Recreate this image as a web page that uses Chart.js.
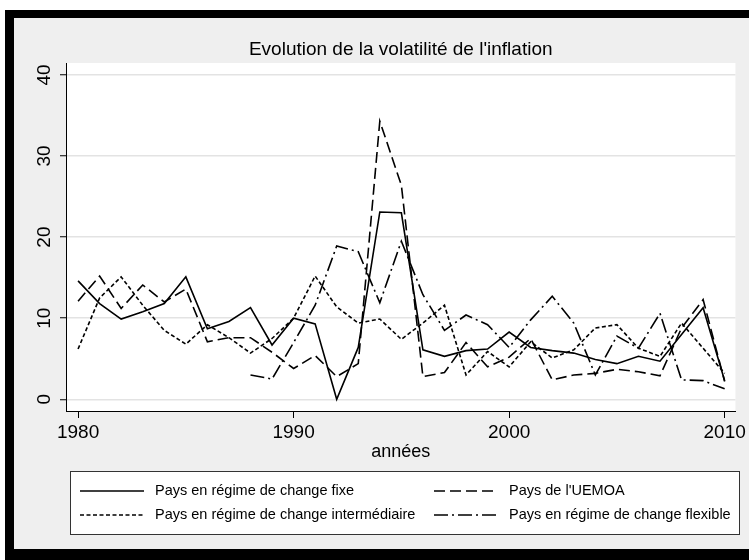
<!DOCTYPE html>
<html>
<head>
<meta charset="utf-8">
<script src="https://cdn.jsdelivr.net/npm/chart.js@4.4.1/dist/chart.umd.min.js"></script>
<style>
  html, body { margin: 0; padding: 0; background: #fff; }
  #wrap { width: 749px; height: 560px; }
</style>
</head>
<body>
<div id="wrap"><canvas id="chart" width="749" height="560"></canvas></div>
<script>
// Evolution de la volatilité de l'inflation, 1980-2010

const years = [1980, 1981, 1982, 1983, 1984, 1985, 1986, 1987, 1988, 1989,
               1990, 1991, 1992, 1993, 1994, 1995, 1996, 1997, 1998, 1999,
               2000, 2001, 2002, 2003, 2004, 2005, 2006, 2007, 2008, 2009, 2010];

const fixe = [14.6, 11.8, 9.9, 10.8, 11.8, 15.1, 8.7, 9.6, 11.3, 6.7,
              10.0, 9.3, 0.0, 6.4, 23.1, 23.0, 6.1, 5.3, 6.0, 6.2,
              8.3, 6.4, 6.0, 5.7, 4.9, 4.4, 5.3, 4.7, 8.0, 11.3, 2.3];

const uemoa = [12.1, 15.2, 11.2, 14.1, 12.0, 13.6, 7.1, 7.6, 7.6, 5.8,
               3.8, 5.4, 2.8, 4.4, 34.3, 26.4, 2.8, 3.3, 7.0, 4.0,
               5.2, 7.5, 2.4, 3.0, 3.2, 3.7, 3.4, 2.9, 8.8, 12.3, 2.2];

const intermediaire = [6.2, 12.5, 15.1, 11.6, 8.5, 6.8, 9.2, 7.6, 5.7, 7.5,
                       10.0, 15.2, 11.4, 9.4, 9.9, 7.4, 9.4, 11.6, 3.0, 5.9,
                       4.0, 7.1, 5.1, 6.1, 8.8, 9.2, 6.3, 5.3, 9.4, 6.3, 3.2];

const flexible = [null, null, null, null, null, null, null, null, 3.0, 2.5,
                  7.0, 11.6, 18.9, 18.2, 11.9, 19.5, 12.9, 8.5, 10.4, 9.2,
                  6.4, 9.8, 12.7, 9.4, 3.0, 7.8, 6.3, 10.6, 2.4, 2.3, 1.3];

const xTicks = [1980, 1990, 2000, 2010];
const yTicks = [0, 10, 20, 30, 40];

const labels = [
  "Pays en régime de change fixe",
  "Pays de l'UEMOA",
  "Pays en régime de change intermédiaire",
  "Pays en régime de change flexible"
];

const TITRE = "Evolution de la volatilité de l'inflation";
const FONT = "'Liberation Sans', Arial, sans-serif";

function pts(vals) {
  return years.map((y, i) => ({ x: y, y: vals[i] }));
}

const dashes = [[], [11, 5], [4, 2.5], [14, 4, 2, 4]];
const series = [fixe, uemoa, intermediaire, flexible];

// cadre noir + fond gris + zone blanche + titre centré sur la zone du graphe
const fondPlugin = {
  id: "fond",
  beforeDraw: chart => {
    const ctx = chart.ctx;
    const a = chart.chartArea;
    ctx.save();
    ctx.fillStyle = "#ffffff";
    ctx.fillRect(0, 0, chart.width, chart.height);
    ctx.fillStyle = "#000000";
    ctx.fillRect(5, 10, chart.width - 5, chart.height - 10);
    ctx.fillStyle = "#efefef";
    ctx.fillRect(14, 18, chart.width - 14, 531);
    ctx.fillStyle = "#ffffff";
    ctx.fillRect(a.left, a.top, a.right - a.left, a.bottom - a.top);
    ctx.fillStyle = "#000";
    ctx.font = "19px " + FONT;
    ctx.textAlign = "center";
    ctx.textBaseline = "middle";
    ctx.fillText(TITRE, (a.left + a.right) / 2, 50);
    ctx.restore();
  }
};

// étiquettes de l'axe y tournées (style Stata)
const yLabelsPlugin = {
  id: "yLabels",
  afterDraw: chart => {
    const ctx = chart.ctx;
    const y = chart.scales.y;
    ctx.save();
    ctx.fillStyle = "#000";
    ctx.font = "19px " + FONT;
    ctx.textAlign = "center";
    ctx.textBaseline = "middle";
    yTicks.forEach(v => {
      const py = y.getPixelForValue(v);
      ctx.translate(45, py);
      ctx.rotate(-Math.PI / 2);
      ctx.fillText(String(v), 0, 0);
      ctx.setTransform(1, 0, 0, 1, 0, 0);
    });
    ctx.restore();
  }
};

// légende encadrée sur 2 colonnes
const legendPlugin = {
  id: "legendeBox",
  afterDraw: chart => {
    const ctx = chart.ctx;
    ctx.save();
    ctx.fillStyle = "#ffffff";
    ctx.fillRect(70, 471, 670, 63);
    ctx.strokeStyle = "#333";
    ctx.lineWidth = 1;
    ctx.strokeRect(70.5, 471.5, 669, 63);
    ctx.font = "14.5px " + FONT;
    ctx.textBaseline = "middle";
    chart.data.datasets.forEach((ds, i) => {
      const col = i % 2, row = Math.floor(i / 2);
      const x0 = col === 0 ? 80 : 434;
      const x1 = col === 0 ? 144 : 496;
      const ty = row === 0 ? 491 : 515;
      ctx.strokeStyle = "#000";
      ctx.lineWidth = 1.6;
      ctx.setLineDash(ds.borderDash || []);
      ctx.beginPath();
      ctx.moveTo(x0, ty);
      ctx.lineTo(x1, ty);
      ctx.stroke();
      ctx.setLineDash([]);
      ctx.fillStyle = "#000";
      ctx.fillText(ds.label, col === 0 ? 155 : 509, ty);
    });
    ctx.restore();
  }
};

const ctx = document.getElementById("chart").getContext("2d");

new Chart(ctx, {
  type: "line",
  data: {
    datasets: series.map((s, i) => ({
      label: labels[i],
      data: pts(s),
      borderColor: "#000",
      borderWidth: 1.6,
      borderDash: dashes[i],
      pointRadius: 0,
      fill: false,
      tension: 0,
      spanGaps: false
    }))
  },
  options: {
    responsive: false,
    animation: false,
    layout: { padding: { left: 0, right: 13, top: 63, bottom: 97 } },
    scales: {
      x: {
        type: "linear",
        min: 1979.44,
        max: 2010.5,
        afterBuildTicks: s => { s.ticks = xTicks.map(v => ({ value: v })); },
        afterFit: s => { s.height = 52; },
        grid: { drawOnChartArea: false, tickLength: 7, tickColor: "#000", tickWidth: 1 },
        border: { display: true, color: "#000", width: 1 },
        ticks: {
          color: "#000",
          font: { family: FONT, size: 19 },
          padding: 3,
          maxRotation: 0,
          autoSkip: false,
          callback: v => String(v)
        },
        title: {
          display: true,
          text: "années",
          color: "#000",
          font: { family: FONT, size: 18 },
          padding: 0
        }
      },
      y: {
        type: "linear",
        min: -1.44,
        max: 41.47,
        afterBuildTicks: s => { s.ticks = yTicks.map(v => ({ value: v })); },
        afterFit: s => { s.width = 66; },
        grid: { color: "#e3e3e3", lineWidth: 1.5, tickLength: 6, tickColor: "#000", tickWidth: 1 },
        border: { display: true, color: "#000", width: 1 },
        ticks: { display: false }
      }
    },
    plugins: {
      legend: { display: false },
      tooltip: { enabled: false },
      title: { display: false }
    }
  },
  plugins: [fondPlugin, yLabelsPlugin, legendPlugin]
});
</script>
</body>
</html>
